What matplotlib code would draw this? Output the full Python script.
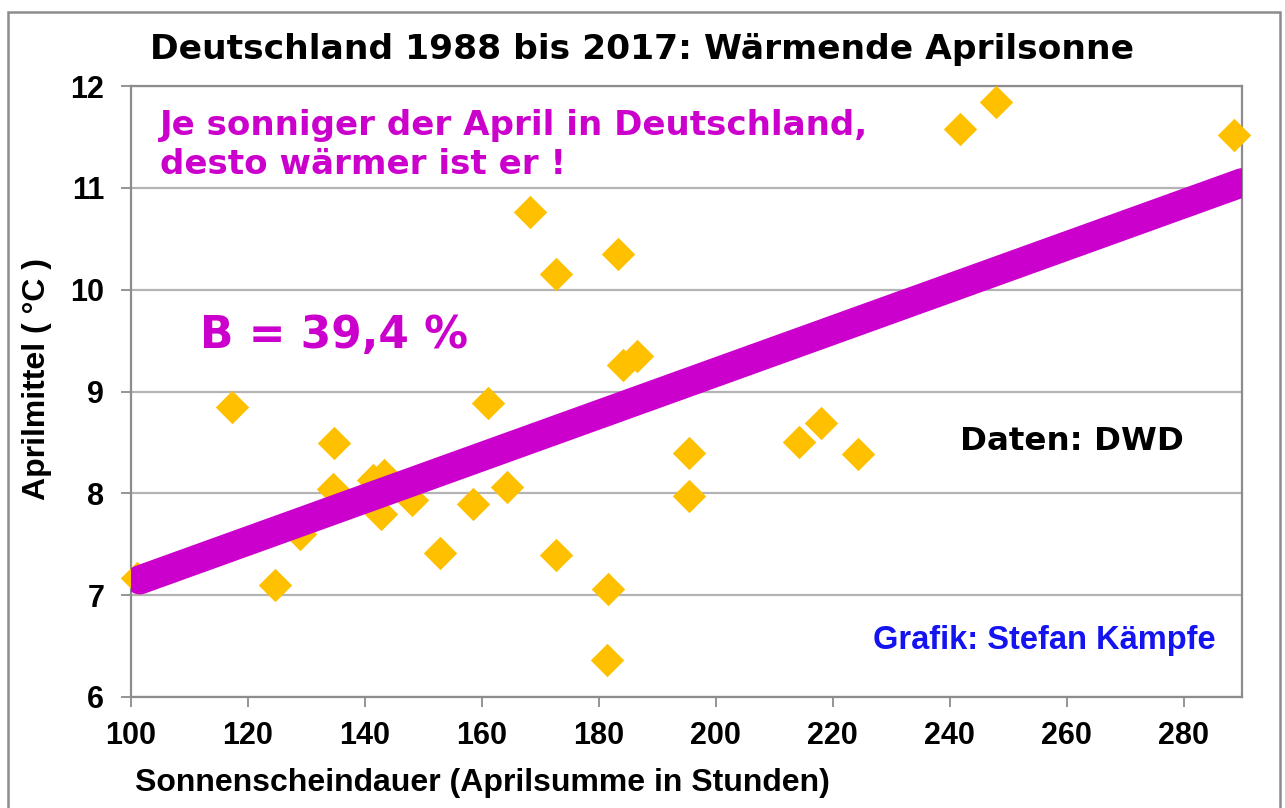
import numpy as np
import matplotlib
matplotlib.use('Agg')
import matplotlib.pyplot as plt
from matplotlib.patches import Rectangle

# April sunshine (hours) vs April mean temp (°C), Germany 1988-2017
sonne = [101.0, 117.3, 124.6, 128.9, 134.7, 134.5, 141.4, 143.2, 142.7, 148.0,
         152.8, 158.5, 161.0, 164.3, 168.2, 172.6, 183.2, 184.1, 186.5, 172.6,
         181.5, 181.4, 195.4, 195.4, 214.2, 218.0, 224.3, 241.7, 247.9, 288.7]
temp = [7.17, 8.85, 7.10, 7.60, 8.49, 8.04, 8.13, 8.18, 7.80, 7.93,
        7.41, 7.90, 8.89, 8.06, 10.76, 10.15, 10.35, 9.26, 9.35, 7.39,
        7.06, 6.36, 8.40, 7.97, 8.50, 8.69, 8.39, 11.58, 11.84, 11.52]

# linear trend
trend_x = [101.5, 290]
trend_y = [7.15, 11.05]

x_ticks = [100, 120, 140, 160, 180, 200, 220, 240, 260, 280]
y_ticks = [6, 7, 8, 9, 10, 11, 12]

plt.rcParams['font.family'] = ['Liberation Sans', 'DejaVu Sans']
plt.rcParams['font.weight'] = 'bold'
WIDE = ['DejaVu Sans']

fig = plt.figure(figsize=(12.85, 8.08), dpi=100)
ax = fig.add_axes([131/1285, 1 - 697/808, (1242 - 131)/1285, (697 - 86)/808])

ax.scatter(sonne, temp, marker='D', s=17**2, color='#FFC000', zorder=3,
           clip_on=False, linewidths=0)
ax.plot(trend_x, trend_y, color='#CC00CC', lw=21, solid_capstyle='round', zorder=4)

ax.set_xlim(100, 290)
ax.set_ylim(6, 12)
ax.set_xticks(x_ticks)
ax.set_yticks(y_ticks)
ax.yaxis.grid(True, color='#b4b4b4', lw=1.6, zorder=0)
ax.set_axisbelow(True)
for s in ax.spines.values():
    s.set_color('#8c8c8c')
    s.set_linewidth(1.6)
ax.tick_params(axis='both', colors='#8c8c8c', length=7.2, width=1.3,
               labelcolor='black', labelsize=22)
ax.tick_params(axis='x', pad=10)
ax.tick_params(axis='y', pad=12)
for lab in ax.get_xticklabels() + ax.get_yticklabels():
    lab.set_fontweight('bold')

ax.set_xlabel('Sonnenscheindauer (Aprilsumme in Stunden)', fontsize=23,
              fontweight='bold')
ax.xaxis.set_label_coords(4/1111, -0.116)
ax.xaxis.label.set_ha('left')
ax.set_ylabel('Aprilmittel ( °C )', fontsize=23, fontweight='bold')
ax.yaxis.set_label_coords(-0.071, 0.52)

fig.text(0.5, 1 - 50/808, 'Deutschland 1988 bis 2017: Wärmende Aprilsonne',
         ha='center', va='center', fontsize=24.8, fontweight='bold', family=WIDE)

fig.text(160/1285, 1 - 145/808,
         'Je sonniger der April in Deutschland,\ndesto wärmer ist er !',
         ha='left', va='center', fontsize=24.6, fontweight='bold',
         color='#CC00CC', linespacing=1.25, family=WIDE)
fig.text(200/1285, 1 - 335/808, 'B = 39,4 %', ha='left', va='center',
         fontsize=31.6, fontweight='bold', color='#CC00CC', family=WIDE)
fig.text(960/1285, 1 - 441/808, 'Daten: DWD', ha='left', va='center',
         fontsize=23.4, fontweight='bold', color='black', family=WIDE)
fig.text(873/1285, 1 - 641/808, 'Grafik: Stefan Kämpfe', ha='left', va='center',
         fontsize=23.5, fontweight='bold', color='#1414F0')

# outer frame
fig.patches.append(Rectangle((8/1285, -0.01), (1280 - 8)/1285, 1 - 12/808 + 0.01,
                             transform=fig.transFigure, fill=False,
                             edgecolor='#8c8c8c', lw=1.8))

fig.savefig('out.png', dpi=100)
